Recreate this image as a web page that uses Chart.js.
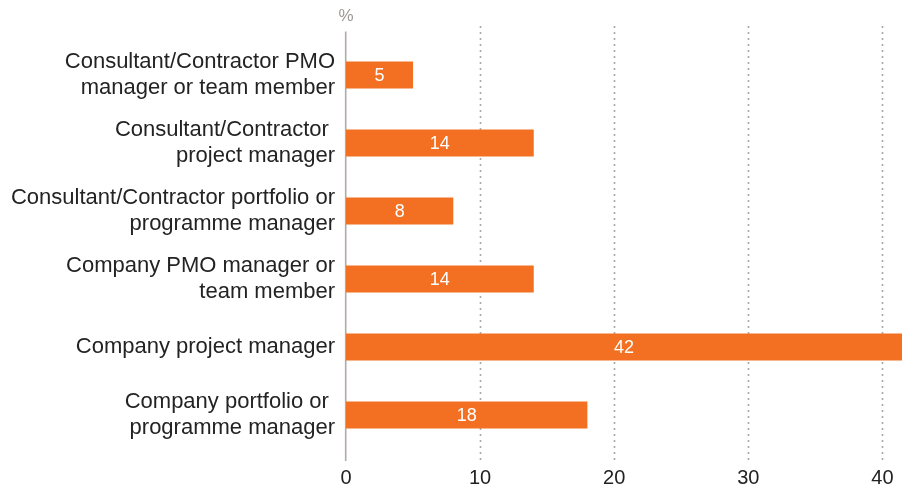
<!DOCTYPE html>
<html>
<head>
<meta charset="utf-8">
<script src="https://cdn.jsdelivr.net/npm/chart.js@4/dist/chart.umd.min.js"></script>
<style>
  html, body { margin: 0; padding: 0; background: #ffffff; overflow: hidden; }
  #wrap { position: relative; width: 902px; height: 490px; }
  #unit { position: absolute; left: 346px; top: 16px; transform: translate(-50%, -50%);
          font-family: "Liberation Sans", Arial, sans-serif; font-size: 17px; color: #9e9893; }
</style>
</head>
<body>
<div id="wrap">
  <canvas id="c" width="902" height="490"></canvas>
  <div id="unit">%</div>
</div>
<script>
const categories = [
  ['Consultant/Contractor PMO', 'manager or team member'],
  ['Consultant/Contractor ', 'project manager'],
  ['Consultant/Contractor portfolio or', 'programme manager'],
  ['Company PMO manager or', 'team member'],
  'Company project manager',
  ['Company portfolio or ', 'programme manager']
];
const values = [5, 14, 8, 14, 42, 18];
const tickValues = [0, 10, 20, 30, 40];
const axisMax = 41.46;

const FONT = '"Liberation Sans", Arial, sans-serif';
const BAR = '#F37022';

const gridPlugin = {
  id: 'customGrid',
  beforeDatasetsDraw(chart) {
    const ctx = chart.ctx;
    const xs = chart.scales.x;
    const area = chart.chartArea;
    ctx.save();
    ctx.strokeStyle = '#a9a19b';
    ctx.lineWidth = 2;
    ctx.lineCap = 'round';
    ctx.setLineDash([0, 6]);
    tickValues.forEach(v => {
      if (v === 0) return;
      const x = Math.round(xs.getPixelForValue(v)) + 0.5;
      ctx.beginPath();
      ctx.moveTo(x, area.top - 14);
      ctx.lineTo(x, area.bottom + 12);
      ctx.stroke();
    });
    ctx.setLineDash([]);
    ctx.lineCap = 'butt';
    ctx.strokeStyle = '#b3aaa3';
    ctx.lineWidth = 1.6;
    const x0 = xs.getPixelForValue(0) - 0.3;
    ctx.beginPath();
    ctx.moveTo(x0, area.top - 9.5);
    ctx.lineTo(x0, area.bottom + 12);
    ctx.stroke();
    ctx.restore();
  }
};

const valueLabelPlugin = {
  id: 'valueLabels',
  afterDatasetsDraw(chart) {
    const ctx = chart.ctx;
    const area = chart.chartArea;
    const meta = chart.getDatasetMeta(0);
    ctx.save();
    ctx.fillStyle = '#ffffff';
    ctx.font = '18px ' + FONT;
    ctx.textAlign = 'center';
    ctx.textBaseline = 'middle';
    meta.data.forEach((bar, i) => {
      const right = Math.min(bar.x, area.right);
      const cx = (bar.base + right) / 2;
      ctx.fillText(String(values[i]), cx, bar.y + 1);
    });
    ctx.restore();
  }
};

new Chart(document.getElementById('c'), {
  type: 'bar',
  data: {
    labels: categories,
    datasets: [{
      data: values,
      backgroundColor: BAR,
      borderWidth: 0,
      barPercentage: 0.397,
      categoryPercentage: 1.0
    }]
  },
  plugins: [gridPlugin, valueLabelPlugin],
  options: {
    indexAxis: 'y',
    responsive: false,
    devicePixelRatio: 1,
    animation: false,
    events: [],
    layout: { padding: { top: 41, left: 0, right: 0, bottom: 0 } },
    plugins: { legend: { display: false }, tooltip: { enabled: false } },
    scales: {
      x: {
        type: 'linear',
        min: 0,
        max: axisMax,
        afterBuildTicks(scale) {
          scale.ticks = tickValues.map(v => ({ value: v }));
        },
        afterFit(scale) {
          scale.height = 41;
          scale.paddingLeft = 0;
          scale.paddingRight = 0;
        },
        grid: { display: false, drawTicks: false },
        border: { display: false },
        ticks: {
          padding: 17,
          color: '#222222',
          font: { family: FONT, size: 20 },
          maxRotation: 0
        }
      },
      y: {
        type: 'category',
        afterFit(scale) {
          scale.width = 346;
          scale.paddingTop = 0;
          scale.paddingBottom = 0;
        },
        grid: { display: false, drawTicks: false },
        border: { display: false },
        ticks: {
          padding: 11,
          color: '#232323',
          font: { family: FONT, size: 22, lineHeight: 1.15 }
        }
      }
    }
  }
});
</script>
</body>
</html>
